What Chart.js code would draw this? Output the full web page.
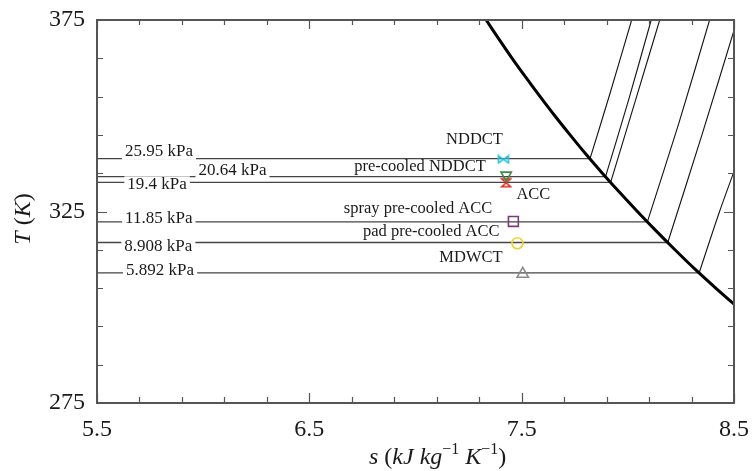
<!DOCTYPE html>
<html>
<head>
<meta charset="utf-8">
<script src="https://cdn.jsdelivr.net/npm/chart.js@4"></script>
<style>
  html, body { margin: 0; padding: 0; background: #fff; }
  #wrap { width: 755px; height: 471px; }
</style>
</head>
<body>
<div id="wrap"><canvas id="ts"></canvas></div>
<script>
// saturated vapour line (s in kJ/kg K, T in K)
const domeS = [7.333, 7.393, 7.455, 7.520, 7.587, 7.656, 7.728, 7.802, 7.880, 7.961, 8.045, 8.132, 8.222, 8.315, 8.414, 8.517, 8.560];
const domeT = [375, 370, 365, 360, 355, 350, 345, 340, 335, 330, 325, 320, 315, 310, 305, 300, 298];

// condenser pressures, their saturation temperature and s on the vapour line
const pressureLabels = ['25.95 kPa', '20.64 kPa', '19.4 kPa', '11.85 kPa', '8.908 kPa', '5.892 kPa'];
const pressureT = [338.8, 334.1, 332.6, 322.3, 316.9, 309.0];
const pressureSg = [7.822, 7.895, 7.919, 8.092, 8.188, 8.336];

// the same isobars continued into the superheated region
const isobarS = [
  [7.822, 7.917, 8.018],
  [7.895, 8.003, 8.110],
  [7.919, 8.036, 8.150],
  [8.092, 8.240, 8.385],
  [8.188, 8.349, 8.515],
  [8.336, 8.432, 8.530]
];
const isobarT = [
  [338.8, 356, 375],
  [334.1, 354, 375],
  [332.6, 354, 375],
  [322.3, 348, 375],
  [316.9, 345, 375],
  [309.0, 325, 340]
];

// cooling systems
const systems = ['NDDCT', 'pre-cooled NDDCT', 'ACC', 'spray pre-cooled ACC', 'pad pre-cooled ACC', 'MDWCT'];
const systemS = [7.414, 7.427, 7.427, 7.461, 7.480, 7.505];
const systemT = [338.6, 334.5, 332.5, 322.4, 316.7, 308.7];

const xTickLabels = ['5.5', '6.5', '7.5', '8.5'];
const yTickLabels = ['275', '325', '375'];

// where the text notes sit (data units)
const pressureNotePos = [[5.792, 340.6], [6.138, 335.8], [5.783, 332.1], [5.791, 323.2], [5.789, 315.8], [5.797, 309.5]];
const systemNotePos = [[7.278, 343.7], [7.021, 336.7], [7.555, 329.3], [7.012, 325.8], [7.074, 319.7], [7.261, 313.0]];

const serif = '"Liberation Serif", "Times New Roman", serif';

function icon(w, h, color, draw) {
  const c = document.createElement('canvas');
  c.width = w; c.height = h;
  const g = c.getContext('2d');
  g.strokeStyle = color;
  g.lineWidth = 1.6;
  g.lineJoin = 'miter';
  draw(g);
  return c;
}

const bowtie = icon(13, 10, '#2cc3d6', (g) => {
  g.beginPath();
  g.moveTo(1.5, 1.5); g.lineTo(6.5, 5); g.lineTo(1.5, 8.5); g.closePath();
  g.moveTo(11.5, 1.5); g.lineTo(6.5, 5); g.lineTo(11.5, 8.5); g.closePath();
  g.stroke();
});
const hourglass = icon(12, 11, '#dd2a22', (g) => {
  g.beginPath();
  g.moveTo(1.5, 1.5); g.lineTo(10.5, 1.5); g.lineTo(1.5, 9.5); g.lineTo(10.5, 9.5); g.closePath();
  g.stroke();
});

const markerStyle = [
  {pointStyle: bowtie, color: '#2cc3d6', rotation: 0, radius: 6},
  {pointStyle: 'triangle', color: '#3b8a45', rotation: 180, radius: 6},
  {pointStyle: hourglass, color: '#dd2a22', rotation: 0, radius: 6},
  {pointStyle: 'rect', color: '#7d3a78', rotation: 0, radius: 7},
  {pointStyle: 'circle', color: '#f2d22a', rotation: 0, radius: 5.5},
  {pointStyle: 'triangle', color: '#8a8a8a', rotation: 0, radius: 6.5}
];

const datasets = [];

pressureT.forEach((t, i) => {
  datasets.push({
    data: [{x: 5.5, y: t}, {x: pressureSg[i], y: t}],
    showLine: true, borderColor: '#454545', borderWidth: 1.3, pointRadius: 0, order: 3
  });
  datasets.push({
    data: isobarS[i].map((s, k) => ({x: s, y: isobarT[i][k]})),
    showLine: true, borderColor: '#111', borderWidth: 1.1, pointRadius: 0, tension: 0.3, order: 3
  });
});

datasets.push({
  data: domeS.map((s, k) => ({x: s, y: domeT[k]})),
  showLine: true, borderColor: '#000', borderWidth: 3, pointRadius: 0, tension: 0.3, order: 2
});

systems.forEach((name, i) => {
  const m = markerStyle[i];
  datasets.push({
    label: name,
    data: [{x: systemS[i], y: systemT[i]}],
    showLine: false,
    pointStyle: m.pointStyle,
    pointRotation: m.rotation,
    pointRadius: m.radius,
    pointBorderColor: m.color,
    pointBorderWidth: 1.6,
    pointBackgroundColor: 'rgba(255,255,255,0)',
    order: 1
  });
});

function drawRuns(ctx, runs, x, y, align) {
  let total = 0;
  runs.forEach((r) => { ctx.font = r.font; total += ctx.measureText(r.t).width; });
  let cx = align === 'center' ? x - total / 2 : x;
  ctx.textAlign = 'left';
  runs.forEach((r) => {
    ctx.font = r.font;
    ctx.fillText(r.t, cx, y + (r.dy || 0));
    cx += ctx.measureText(r.t).width;
  });
}

const overlay = {
  id: 'overlay',
  afterDatasetsDraw(chart) {
    const {ctx, scales: {x, y}} = chart;
    ctx.save();
    ctx.textAlign = 'center';
    ctx.textBaseline = 'middle';
    ctx.font = `17px ${serif}`;
    pressureLabels.forEach((txt, i) => {
      const px = x.getPixelForValue(pressureNotePos[i][0]);
      const py = y.getPixelForValue(pressureNotePos[i][1]);
      const w = ctx.measureText(txt).width;
      ctx.fillStyle = '#fff';
      ctx.fillRect(px - w / 2 - 3, py - 8, w + 6, 16);
      ctx.fillStyle = '#1a1a1a';
      ctx.fillText(txt, px, py);
    });
    ctx.font = `16.5px ${serif}`;
    systems.forEach((txt, i) => {
      const px = x.getPixelForValue(systemNotePos[i][0]);
      const py = y.getPixelForValue(systemNotePos[i][1]);
      ctx.fillStyle = '#1a1a1a';
      ctx.fillText(txt, px, py);
    });
    ctx.restore();
  },
  afterDraw(chart) {
    const {ctx, chartArea: a, scales: {x, y}} = chart;
    ctx.save();
    ctx.strokeStyle = '#555';
    ctx.lineWidth = 1.2;
    ctx.beginPath();
    x.ticks.forEach((t) => {
      const px = Math.round(x.getPixelForValue(t.value)) + 0.5;
      const len = t.label ? 10 : 6;
      ctx.moveTo(px, a.bottom); ctx.lineTo(px, a.bottom - len);
      ctx.moveTo(px, a.top); ctx.lineTo(px, a.top + len - 1);
    });
    y.ticks.forEach((t) => {
      const py = Math.round(y.getPixelForValue(t.value)) + 0.5;
      const len = t.label ? 10 : 6;
      ctx.moveTo(a.left, py); ctx.lineTo(a.left + len, py);
      ctx.moveTo(a.right, py); ctx.lineTo(a.right - len, py);
    });
    ctx.stroke();
    ctx.lineWidth = 2;
    ctx.strokeStyle = '#555';
    ctx.strokeRect(a.left, a.top, a.right - a.left, a.bottom - a.top);

    // axis titles
    ctx.fillStyle = '#1a1a1a';
    ctx.textBaseline = 'middle';
    const it = `italic 24px ${serif}`;
    const rm = `24px ${serif}`;
    const sup = `16px ${serif}`;
    ctx.save();
    ctx.translate(24, 219);
    ctx.rotate(-Math.PI / 2);
    drawRuns(ctx, [{t: 'T', font: it}, {t: ' (', font: rm}, {t: 'K', font: it}, {t: ')', font: rm}], 0, 0, 'center');
    ctx.restore();
    ctx.textBaseline = 'alphabetic';
    drawRuns(ctx, [
      {t: 's', font: it}, {t: ' (', font: rm}, {t: 'kJ kg', font: it},
      {t: '\u22121', font: sup, dy: -10}, {t: ' ', font: rm}, {t: 'K', font: it},
      {t: '\u22121', font: sup, dy: -10}, {t: ')', font: rm}
    ], 369, 464, 'left');
    ctx.restore();
  }
};

const tickFont = {family: serif, size: 24};

new Chart(document.getElementById('ts'), {
  type: 'scatter',
  data: {datasets},
  options: {
    responsive: true,
    maintainAspectRatio: false,
    animation: false,
    devicePixelRatio: 1,
    layout: {padding: {left: 0, right: 21, top: 20, bottom: 0}},
    plugins: {legend: {display: false}, tooltip: {enabled: false}},
    scales: {
      x: {
        type: 'linear', min: 5.5, max: 8.5,
        grid: {display: false, drawTicks: false},
        border: {display: false},
        afterFit: (s) => { s.height = 68; s.paddingLeft = 0; s.paddingRight = 0; },
        ticks: {
          stepSize: 0.2, autoSkip: false, maxRotation: 0, padding: 12,
          color: '#1a1a1a', font: tickFont,
          callback: (v) => { const l = v.toFixed(1); return xTickLabels.includes(l) ? l : ''; }
        }
      },
      y: {
        type: 'linear', min: 275, max: 375,
        grid: {display: false, drawTicks: false},
        border: {display: false},
        afterFit: (s) => { s.width = 97; s.paddingTop = 0; s.paddingBottom = 0; },
        ticks: {
          stepSize: 10, autoSkip: false, padding: 12,
          color: '#1a1a1a', font: tickFont,
          callback: (v) => { const l = String(Math.round(v)); return yTickLabels.includes(l) ? l : ''; }
        }
      }
    }
  },
  plugins: [overlay]
});
</script>
</body>
</html>
